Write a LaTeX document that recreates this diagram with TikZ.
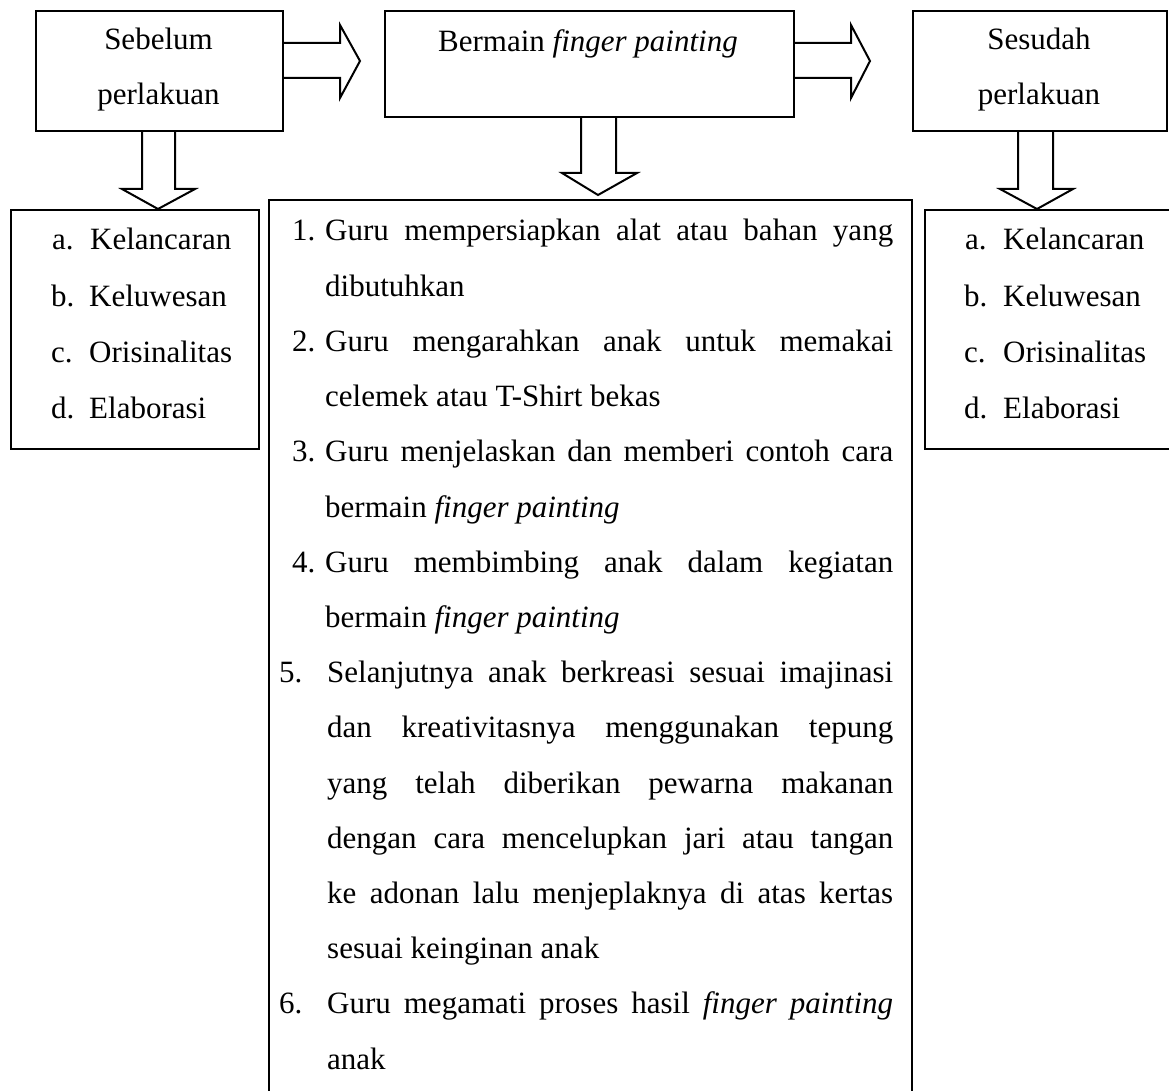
\documentclass[tikz,border=0pt]{standalone}
\usepackage{fontspec}
\setmainfont{Liberation Serif}
\begin{document}
\begin{tikzpicture}[x=1pt,y=-1pt,
  box/.style={draw,line width=2pt,anchor=north west,inner sep=0pt},
  barrow/.style={draw,line width=2pt,line join=miter},
  txt/.style={font=\fontsize{31}{37}\selectfont,inner sep=0pt},
  lbl/.style={txt,anchor=base west},
  ctr/.style={txt,anchor=base}]
\useasboundingbox (0,0) rectangle (1169,1091);
% boxes
\node[box,minimum width=247pt,minimum height=120pt] (pre) at (35,10) {};
\node[box,minimum width=409pt,minimum height=106pt] (play) at (384,10) {};
\node[box,minimum width=254pt,minimum height=120pt] (post) at (912,10) {};
\node[box,minimum width=248pt,minimum height=239pt] (preL) at (10,209) {};
\node[box,minimum width=643pt,minimum height=920pt] (steps) at (268,199) {};
\node[box,minimum width=260pt,minimum height=239pt] (postL) at (924,209) {};
% block arrows
\draw[barrow] (pre.east |- 0,43) -- (340,43) -- (340,25) -- (360,61) -- (340,98) -- (340,78) -- (pre.east |- 0,78);
\draw[barrow] (play.east |- 0,43) -- (851,43) -- (851,25) -- (870,61) -- (851,98) -- (851,78) -- (play.east |- 0,78);
\draw[barrow] (142,0 |- pre.south) -- (142,189) -- (122,189) -- (158,209 |- preL.north) -- (195,189) -- (175,189) -- (175,0 |- pre.south);
\draw[barrow] (581,0 |- play.south) -- (581,173) -- (562,173) -- (598,195) -- (637,173) -- (616,173) -- (616,0 |- play.south);
\draw[barrow] (1018,0 |- post.south) -- (1018,189) -- (1000,189) -- (1037,0 |- postL.north) -- (1073,189) -- (1053,189) -- (1053,0 |- post.south);
% top texts
\node[ctr] (pre1) at (158.5,50) {Sebelum};
\node[ctr] (pre2) at (158.5,105) {perlakuan};
\node[ctr] (play1) at (588,52) {Bermain \textit{finger painting}};
\node[ctr] (post1) at (1039,50) {Sesudah};
\node[ctr] (post2) at (1039,105) {perlakuan};
% left list
\node[lbl] (la) at (52,250) {a.}; \node[lbl] (lat) at (90,250) {Kelancaran};
\node[lbl] (lb) at (51,306) {b.}; \node[lbl] (lbt) at (89,306) {Keluwesan};
\node[lbl] (lc) at (51,362) {c.}; \node[lbl] (lct) at (89,362) {Orisinalitas};
\node[lbl] (ld) at (51,418) {d.}; \node[lbl] (ldt) at (89,418) {Elaborasi};
% right list
\node[lbl] (ra) at (965,250) {a.}; \node[lbl] (rat) at (1003,250) {Kelancaran};
\node[lbl] (rb) at (964,306) {b.}; \node[lbl] (rbt) at (1003,306) {Keluwesan};
\node[lbl] (rc) at (964,362) {c.}; \node[lbl] (rct) at (1003,362) {Orisinalitas};
\node[lbl] (rd) at (964,418) {d.}; \node[lbl] (rdt) at (1003,418) {Elaborasi};
% middle list
\node[lbl] (n1) at (292,241) {1.};
\node[lbl] (s0) at (325,241) {\makebox[568pt][s]{Guru mempersiapkan alat atau bahan yang}};
\node[lbl] (s1) at (325,296.2) {dibutuhkan};
\node[lbl] (n2) at (292,351.4) {2.};
\node[lbl] (s2) at (325,351.4) {\makebox[568pt][s]{Guru mengarahkan anak untuk memakai}};
\node[lbl] (s3) at (325,406.6) {celemek atau T-Shirt bekas};
\node[lbl] (n3) at (292,461.8) {3.};
\node[lbl] (s4) at (325,461.8) {\makebox[568pt][s]{Guru menjelaskan dan memberi contoh cara}};
\node[lbl] (s5) at (325,517) {bermain \textit{finger painting}};
\node[lbl] (n4) at (292,572.2) {4.};
\node[lbl] (s6) at (325,572.2) {\makebox[568pt][s]{Guru membimbing anak dalam kegiatan}};
\node[lbl] (s7) at (325,627.4) {bermain \textit{finger painting}};
\node[lbl] (n5) at (279,682.6) {5.};
\node[lbl] (s8) at (327,682.6) {\makebox[566pt][s]{Selanjutnya anak berkreasi sesuai imajinasi}};
\node[lbl] (s9) at (327,737.8) {\makebox[566pt][s]{dan kreativitasnya menggunakan tepung}};
\node[lbl] (s10) at (327,793) {\makebox[566pt][s]{yang telah diberikan pewarna makanan}};
\node[lbl] (s11) at (327,848.2) {\makebox[566pt][s]{dengan cara mencelupkan jari atau tangan}};
\node[lbl] (s12) at (327,903.4) {\makebox[566pt][s]{ke adonan lalu menjeplaknya di atas kertas}};
\node[lbl] (s13) at (327,958.6) {sesuai keinginan anak};
\node[lbl] (n6) at (279,1013.8) {6.};
\node[lbl] (s14) at (327,1013.8) {\makebox[566pt][s]{Guru megamati proses hasil \textit{finger painting}}};
\node[lbl] (s15) at (327,1069) {anak};
\end{tikzpicture}
\end{document}
